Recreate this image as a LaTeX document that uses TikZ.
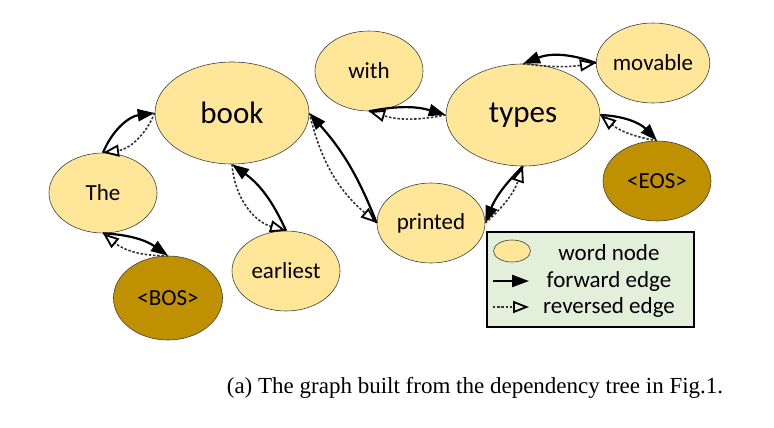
\documentclass[tikz,border=0pt]{standalone}
\usepackage{fontspec}
\setmainfont{Liberation Serif}
\newfontfamily\calib{Carlito}
\usetikzlibrary{shapes.geometric,arrows.meta}
\definecolor{wordfill}{HTML}{FFE699}
\definecolor{endfill}{HTML}{BF9000}
\definecolor{legfill}{HTML}{E2EFDA}
\tikzset{
  word/.style={ellipse, draw=black!75, line width=0.6pt, fill=wordfill, inner sep=0pt,
    minimum width=108pt, minimum height=80pt, font=\calib\fontsize{23}{26}\selectfont},
  bigword/.style={word, minimum width=154pt, minimum height=102pt, font=\calib\fontsize{31}{34}\selectfont},
  endword/.style={word, fill=endfill},
  legtext/.style={font=\calib\fontsize{23}{26}\selectfont},
  fwd/.style={line width=2.2pt, -{Triangle[length=17pt,width=12pt]}},
  rev/.style={line width=1.6pt, draw=black!80, dash pattern=on 2.4pt off 1.8pt,
    -{Triangle[open,length=16pt,width=12pt,line width=1.8pt,color=black]}},
}
\begin{document}
\begin{tikzpicture}[x=1pt,y=-1pt]
\useasboundingbox (0,0) rectangle (774,428);
% nodes
\node[bigword] (book) at (232,113) {book};
\node[bigword] (types) at (523,115) {types};
\node[word] (the) at (103,193) {The};
\node[endword, minimum width=109pt, minimum height=84pt] (bos) at (168,298) {<BOS>};
\node[word] (earliest) at (286,271) {earliest};
\node[word] (with) at (369,71) {with};
\node[word] (movable) at (653,63) {movable};
\node[endword] (eos) at (657,181) {<EOS>};
\node[word] (printed) at (431,223) {printed};
% edges
\draw[fwd] (the.north) to[bend left=30] (book.west);
\draw[rev] (book.west) to[bend left=30] (the.north);
\draw[fwd] (the.south) to[bend left=16] (bos.north);
\draw[rev] (bos.north) to[bend left=20] (the.south);
\draw[fwd] (earliest.north) to[bend right=15] (book.south);
\draw[rev] (book.south) to[bend right=35] (earliest.north);
\draw[fwd] (printed.west) to[bend right=10] (book.east);
\draw[rev] (book.east) to[bend right=18] (printed.west);
\draw[fwd] (with.south) to[bend left=14] (types.west);
\draw[rev] (types.west) to[bend left=14] (with.south);
\draw[fwd] (movable.west) to[bend right=21] (types.north);
\draw[rev] (types.north) to[bend right=8] (movable.west);
\draw[fwd] (types.east) to[bend left=22] (eos.north);
\draw[rev] (eos.north) to[bend left=15] (types.east);
\draw[fwd] (types.south) to[bend right=12] (printed.east);
\draw[rev] (printed.east) to[bend right=15] (types.south);
% legend
\node[draw=black, line width=1.4pt, fill=legfill, minimum width=207pt, minimum height=95pt, inner sep=0pt] (legend) at (590.5,279.5) {};
\node[ellipse, draw=black!75, line width=0.6pt, fill=wordfill, minimum width=37pt, minimum height=22pt, inner sep=0pt] (legword) at (512,251) {};
\node[legtext] (legwordt) at (609,253) {word node};
\coordinate (f1) at (493,281);
\coordinate (f2) at (529,281);
\draw[fwd] (f1) -- (f2);
\node[legtext] (legfwd) at (609,281) {forward edge};
\coordinate (r1) at (493,307);
\coordinate (r2) at (529,307);
\draw[rev] (r1) -- (r2);
\node[legtext] (legrev) at (609,307) {reversed edge};
% caption
\node[font=\fontsize{23}{26}\selectfont] (caption) at (475,388) {(a) The graph built from the dependency tree in Fig.1.};
\end{tikzpicture}
\end{document}
